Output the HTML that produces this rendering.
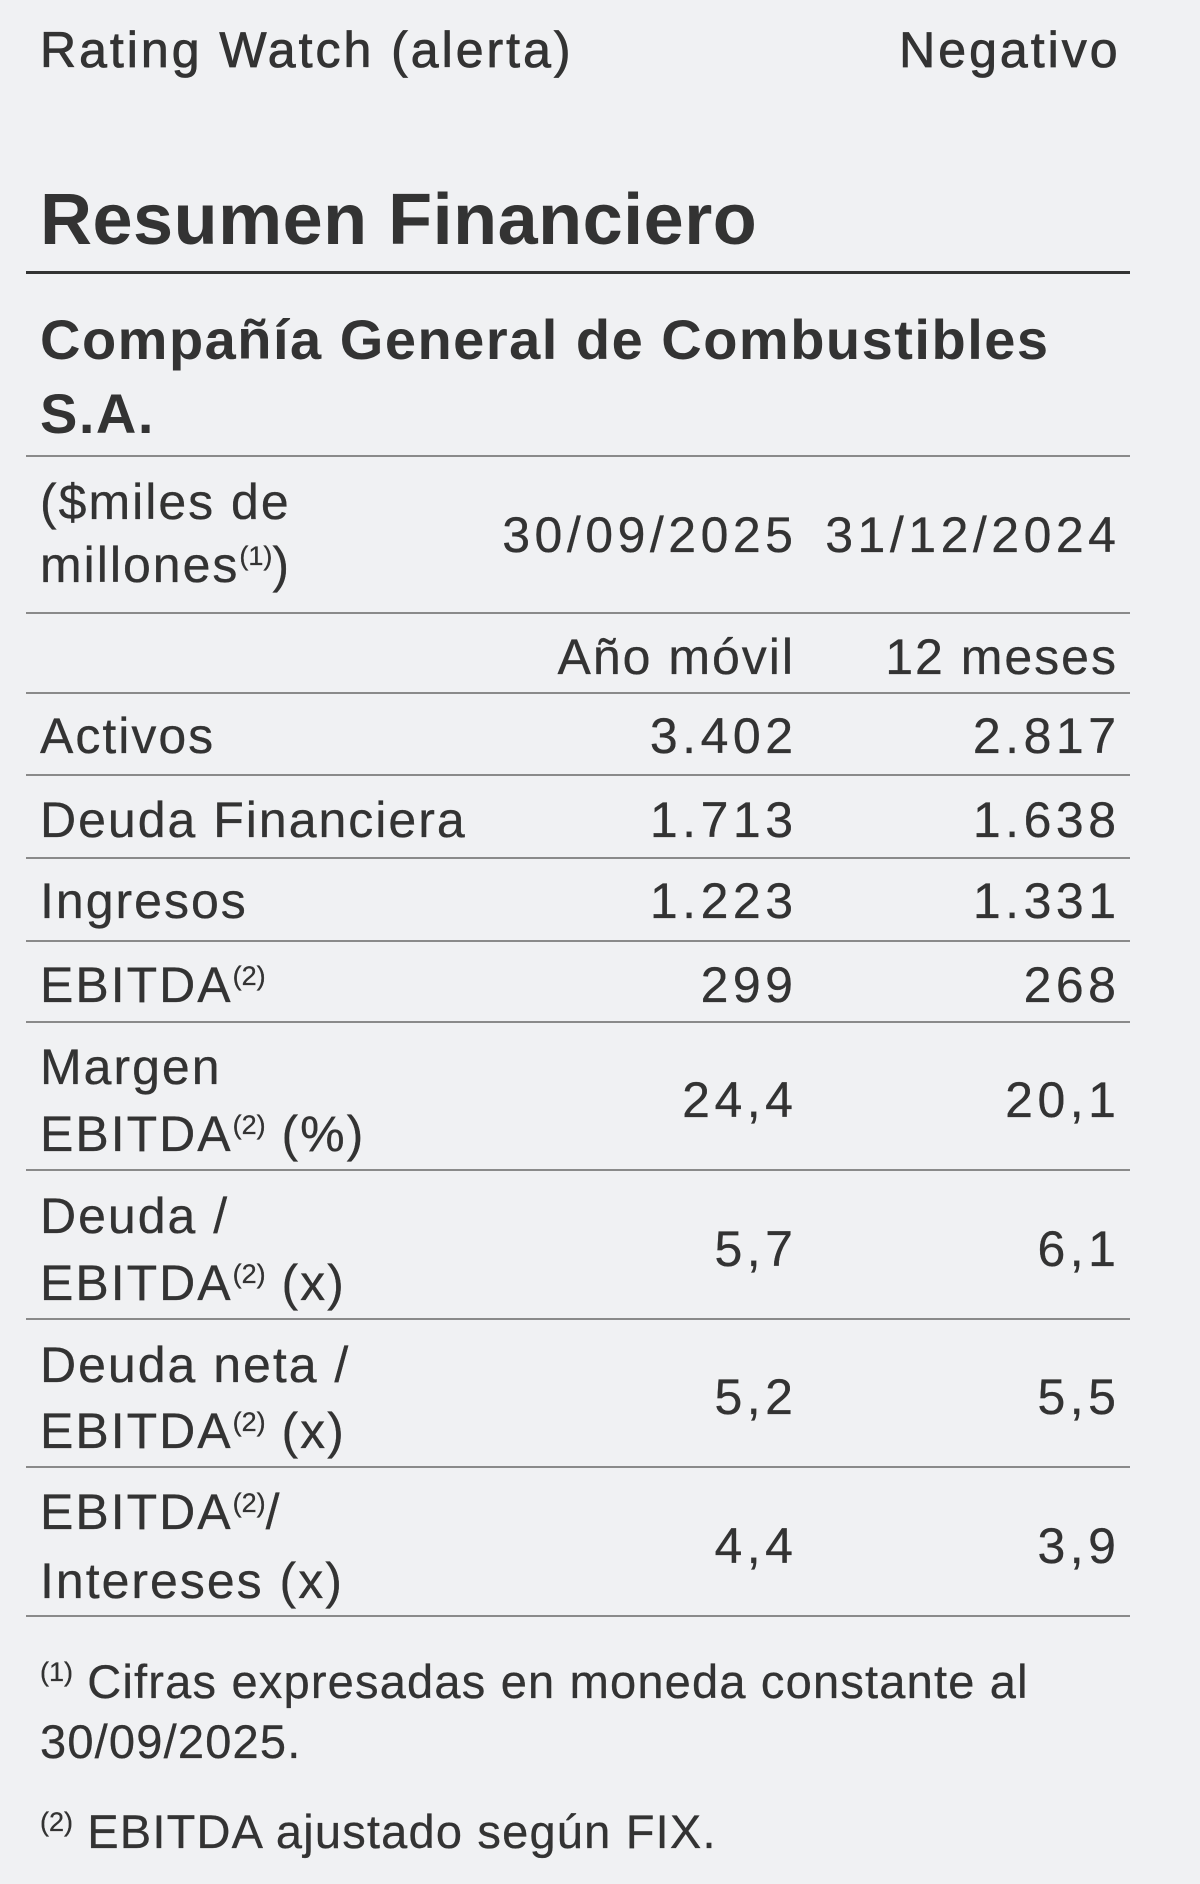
<!DOCTYPE html>
<html><head><meta charset="utf-8"><style>
body{margin:0;width:1200px;height:1884px;background:#f0f1f3;position:relative;overflow:hidden;font-family:"Liberation Sans",sans-serif;color:#333;}
.t{position:absolute;line-height:60px;height:60px;white-space:nowrap;font-size:50px;letter-spacing:2px;-webkit-text-stroke:0.3px #333}
.l{left:40px}
.r1{right:407px;text-align:right;letter-spacing:4.5px;margin-right:-4.5px}
.r2{right:84px;text-align:right;letter-spacing:4.5px;margin-right:-4.5px}
.hr{position:absolute;left:26px;width:1104px;height:2px;background:#8a8a8a}
sup{font-size:27px;vertical-align:17px;line-height:0;letter-spacing:0}
</style></head><body>
<div class="t l" style="top:20px;letter-spacing:3px;-webkit-text-stroke:0.8px #333">Rating Watch (alerta)</div>
<div class="t r2" style="top:20px;letter-spacing:3px;-webkit-text-stroke:0.8px #333">Negativo</div>
<div class="t l" style="top:180px;font-size:72px;font-weight:bold;height:80px;line-height:80px;letter-spacing:0.5px;-webkit-text-stroke:0">Resumen Financiero</div>
<div class="hr" style="top:271px;height:3px;background:#333"></div>
<div class="t l" style="top:305px;font-size:56px;font-weight:bold;height:70px;line-height:70px;letter-spacing:1.5px;-webkit-text-stroke:0">Compañía General de Combustibles</div>
<div class="t l" style="top:379px;font-size:56px;font-weight:bold;height:70px;line-height:70px;letter-spacing:1.5px;-webkit-text-stroke:0">S.A.</div>
<div class="hr" style="top:455px"></div>
<div class="t l" style="top:472px">($miles de</div>
<div class="t l" style="top:535px">millones<sup>(1)</sup>)</div>
<div class="t r1" style="top:505px">30/09/2025</div>
<div class="t r2" style="top:505px">31/12/2024</div>
<div class="hr" style="top:612px"></div>
<div class="t r1" style="top:627px;letter-spacing:2px;margin-right:-2px">Año móvil</div>
<div class="t r2" style="top:627px;letter-spacing:2px;margin-right:-2px">12 meses</div>
<div class="hr" style="top:692px"></div>
<div class="t l" style="top:706px">Activos</div><div class="t r1" style="top:706px">3.402</div><div class="t r2" style="top:706px">2.817</div>
<div class="hr" style="top:774px"></div>
<div class="t l" style="top:790px">Deuda Financiera</div><div class="t r1" style="top:790px">1.713</div><div class="t r2" style="top:790px">1.638</div>
<div class="hr" style="top:857px"></div>
<div class="t l" style="top:871px">Ingresos</div><div class="t r1" style="top:871px">1.223</div><div class="t r2" style="top:871px">1.331</div>
<div class="hr" style="top:940px"></div>
<div class="t l" style="top:955px">EBITDA<sup>(2)</sup></div><div class="t r1" style="top:955px">299</div><div class="t r2" style="top:955px">268</div>
<div class="hr" style="top:1021px"></div>
<div class="t l" style="top:1037px">Margen</div>
<div class="t l" style="top:1104px">EBITDA<sup>(2)</sup> (%)</div>
<div class="t r1" style="top:1070px">24,4</div><div class="t r2" style="top:1070px">20,1</div>
<div class="hr" style="top:1169px"></div>
<div class="t l" style="top:1186px">Deuda /</div>
<div class="t l" style="top:1253px">EBITDA<sup>(2)</sup> (x)</div>
<div class="t r1" style="top:1219px">5,7</div><div class="t r2" style="top:1219px">6,1</div>
<div class="hr" style="top:1318px"></div>
<div class="t l" style="top:1335px">Deuda neta /</div>
<div class="t l" style="top:1401px">EBITDA<sup>(2)</sup> (x)</div>
<div class="t r1" style="top:1367px">5,2</div><div class="t r2" style="top:1367px">5,5</div>
<div class="hr" style="top:1466px"></div>
<div class="t l" style="top:1482px">EBITDA<sup>(2)</sup>/</div>
<div class="t l" style="top:1551px">Intereses (x)</div>
<div class="t r1" style="top:1516px">4,4</div><div class="t r2" style="top:1516px">3,9</div>
<div class="hr" style="top:1615px"></div>
<div class="t l" style="top:1652px;font-size:47px;letter-spacing:1.2px"><sup>(1)</sup> Cifras expresadas en moneda constante al</div>
<div class="t l" style="top:1712px;font-size:47px;letter-spacing:1.2px">30/09/2025.</div>
<div class="t l" style="top:1802px;font-size:47px;letter-spacing:1.2px"><sup>(2)</sup> EBITDA ajustado según FIX.</div>
</body></html>
